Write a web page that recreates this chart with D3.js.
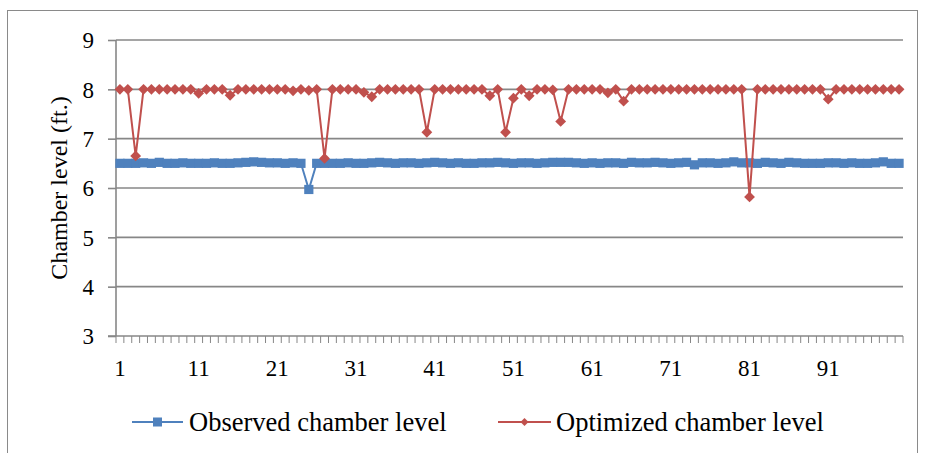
<!DOCTYPE html>
<html>
<head>
<meta charset="utf-8">
<script src="https://cdn.jsdelivr.net/npm/d3@7"></script>
<style>
  html, body { margin: 0; padding: 0; background: #fff; }
  svg { display: block; }
  svg text { font-family: "Liberation Serif", "Times New Roman", serif; }
</style>
</head>
<body>
<div id="chart"></div>
<script>
// categories 1..100, labelled every 10th
const periods = d3.range(1, 101);
const tickLabels = [1, 11, 21, 31, 41, 51, 61, 71, 81, 91];
const yTicks = [3, 4, 5, 6, 7, 8, 9];

const observed = [
  6.5, 6.5, 6.5, 6.51, 6.5, 6.52, 6.5, 6.5, 6.51, 6.5,
  6.5, 6.5, 6.51, 6.5, 6.5, 6.51, 6.52, 6.53, 6.52, 6.51,
  6.51, 6.5, 6.51, 6.5, 5.97, 6.5, 6.5, 6.5, 6.5, 6.51,
  6.5, 6.5, 6.51, 6.52, 6.51, 6.5, 6.51, 6.51, 6.5, 6.51,
  6.52, 6.51, 6.5, 6.51, 6.5, 6.5, 6.51, 6.51, 6.52, 6.51,
  6.5, 6.51, 6.51, 6.5, 6.51, 6.52, 6.52, 6.52, 6.51, 6.5,
  6.51, 6.5, 6.51, 6.51, 6.5, 6.52, 6.51, 6.51, 6.52, 6.51,
  6.5, 6.51, 6.52, 6.47, 6.51, 6.51, 6.5, 6.51, 6.53, 6.51,
  6.51, 6.5, 6.52, 6.51, 6.5, 6.52, 6.51, 6.5, 6.5, 6.5,
  6.51, 6.51, 6.5, 6.51, 6.5, 6.5, 6.51, 6.53, 6.5, 6.5
];
const optimized = [
  8.0, 8.0, 6.65, 8.0, 8.0, 8.0, 8.0, 8.0, 8.0, 8.0,
  7.92, 8.0, 8.0, 8.0, 7.88, 8.0, 8.0, 8.0, 8.0, 8.0,
  8.0, 8.0, 7.97, 8.0, 7.98, 8.0, 6.6, 8.0, 8.0, 8.0,
  8.0, 7.94, 7.85, 8.0, 8.0, 8.0, 8.0, 8.0, 8.0, 7.13,
  8.0, 8.0, 8.0, 8.0, 8.0, 8.0, 8.0, 7.87, 8.0, 7.13,
  7.82, 8.0, 7.87, 8.0, 8.0, 7.99, 7.35, 8.0, 8.0, 8.0,
  8.0, 8.0, 7.93, 8.0, 7.76, 8.0, 8.0, 8.0, 8.0, 8.0,
  8.0, 8.0, 8.0, 8.0, 8.0, 8.0, 8.0, 8.0, 8.0, 8.0,
  5.82, 8.0, 8.0, 8.0, 8.0, 8.0, 8.0, 8.0, 8.0, 8.0,
  7.8, 8.0, 8.0, 8.0, 8.0, 8.0, 8.0, 8.0, 8.0, 8.0
];
const seriesNames = ['Observed chamber level', 'Optimized chamber level'];
const BLUE = '#4f81bd', RED = '#c0504d', GRID = '#878787';
const SERIF = '"Liberation Serif", "Times New Roman", serif';

const W = 925, H = 453, m = { t: 40, r: 22, b: 117, l: 116 };
const svg = d3.select('#chart').append('svg').attr('width', W).attr('height', H);

// outer chart border
svg.append('rect').attr('x', 7.5).attr('y', 10.5).attr('width', 910).attr('height', 460)
  .attr('fill', 'none').attr('stroke', '#8a8a8a').attr('stroke-width', 1);

const x = d3.scaleBand().domain(periods).range([m.l, W - m.r]);
const y = d3.scaleLinear().domain([3, 9]).range([H - m.b, m.t]);
const cx = d => x(d) + x.bandwidth() / 2;

// gridlines
svg.append('g').selectAll('line').data(yTicks.filter(v => v > 3)).join('line')
  .attr('x1', m.l).attr('x2', x.range()[1]).attr('y1', d => y(d)).attr('y2', d => y(d))
  .attr('stroke', GRID).attr('stroke-width', 1.6);

// y axis
const ya = svg.append('g').attr('transform', `translate(${m.l},0)`)
  .call(d3.axisLeft(y).tickValues(yTicks).tickSize(8).tickPadding(14).tickFormat(d3.format('d')))
  .attr('font-family', SERIF).attr('font-size', 23);
ya.select('.domain').attr('stroke', GRID).attr('stroke-width', 1.6).attr('d', `M-0,${y(9)}V${y(3)}`);
ya.selectAll('.tick line').attr('stroke', GRID).attr('stroke-width', 1.6);
ya.selectAll('text').attr('font-family', SERIF).attr('font-size', 23).attr('fill', '#000').attr('dy', '0.34em');

// x axis: ticks between categories, labels every 10
const xg = svg.append('g').attr('transform', `translate(0,${y(3)})`);
xg.append('line').attr('x1', m.l - 8).attr('x2', x.range()[1]).attr('stroke', GRID).attr('stroke-width', 1.6);
xg.selectAll('line.tk').data(periods.concat([101])).join('line').attr('class', 'tk')
  .attr('x1', d => d <= 100 ? x(d) : x.range()[1]).attr('x2', d => d <= 100 ? x(d) : x.range()[1])
  .attr('y1', 0).attr('y2', 7).attr('stroke', GRID).attr('stroke-width', 1);
xg.selectAll('text').data(tickLabels).join('text')
  .attr('x', d => cx(d)).attr('y', 40).attr('text-anchor', 'middle')
  .attr('font-family', SERIF).attr('font-size', 23).attr('fill', '#000').text(d => d);

// axis title
svg.append('text').attr('transform', `translate(67,${(y(3) + y(9)) / 2}) rotate(-90)`)
  .attr('text-anchor', 'middle').attr('font-family', SERIF).attr('font-size', 24).attr('fill', '#000')
  .text('Chamber level (ft.)');

const line = d3.line().x((d, i) => cx(periods[i])).y(d => y(d));
const diamond = (r) => `M0,${-r}L${r},0L0,${r}L${-r},0Z`;

// observed series
svg.append('path').datum(observed).attr('d', line).attr('fill', 'none')
  .attr('stroke', BLUE).attr('stroke-width', 2);
svg.append('g').selectAll('rect').data(observed).join('rect')
  .attr('x', (d, i) => cx(periods[i]) - 4.6).attr('y', d => y(d) - 4.6)
  .attr('width', 9.2).attr('height', 9.2).attr('fill', BLUE);

// optimized series
svg.append('path').datum(optimized).attr('d', line).attr('fill', 'none')
  .attr('stroke', RED).attr('stroke-width', 2);
svg.append('g').selectAll('path').data(optimized).join('path')
  .attr('transform', (d, i) => `translate(${cx(periods[i])},${y(d)})`)
  .attr('d', diamond(5.4)).attr('fill', RED);

// legend
const leg = [
  { name: seriesNames[0], color: BLUE, x0: 132, x1: 183, tx: 189, mk: 'sq' },
  { name: seriesNames[1], color: RED, x0: 498, x1: 551, tx: 556, mk: 'dm' }
];
const lg = svg.append('g').selectAll('g').data(leg).join('g').attr('transform', 'translate(0,422)');
lg.append('line').attr('x1', d => d.x0).attr('x2', d => d.x1).attr('stroke', d => d.color).attr('stroke-width', 2);
lg.filter(d => d.mk === 'sq').append('rect').attr('x', d => (d.x0 + d.x1) / 2 - 4.5).attr('y', -4.5)
  .attr('width', 9).attr('height', 9).attr('fill', d => d.color);
lg.filter(d => d.mk === 'dm').append('path').attr('transform', d => `translate(${(d.x0 + d.x1) / 2},0)`)
  .attr('d', diamond(4)).attr('fill', d => d.color);
lg.append('text').attr('x', d => d.tx).attr('y', 8.5).attr('font-family', SERIF).attr('font-size', 26.5)
  .attr('fill', '#000').text(d => d.name);
</script>
</body>
</html>
